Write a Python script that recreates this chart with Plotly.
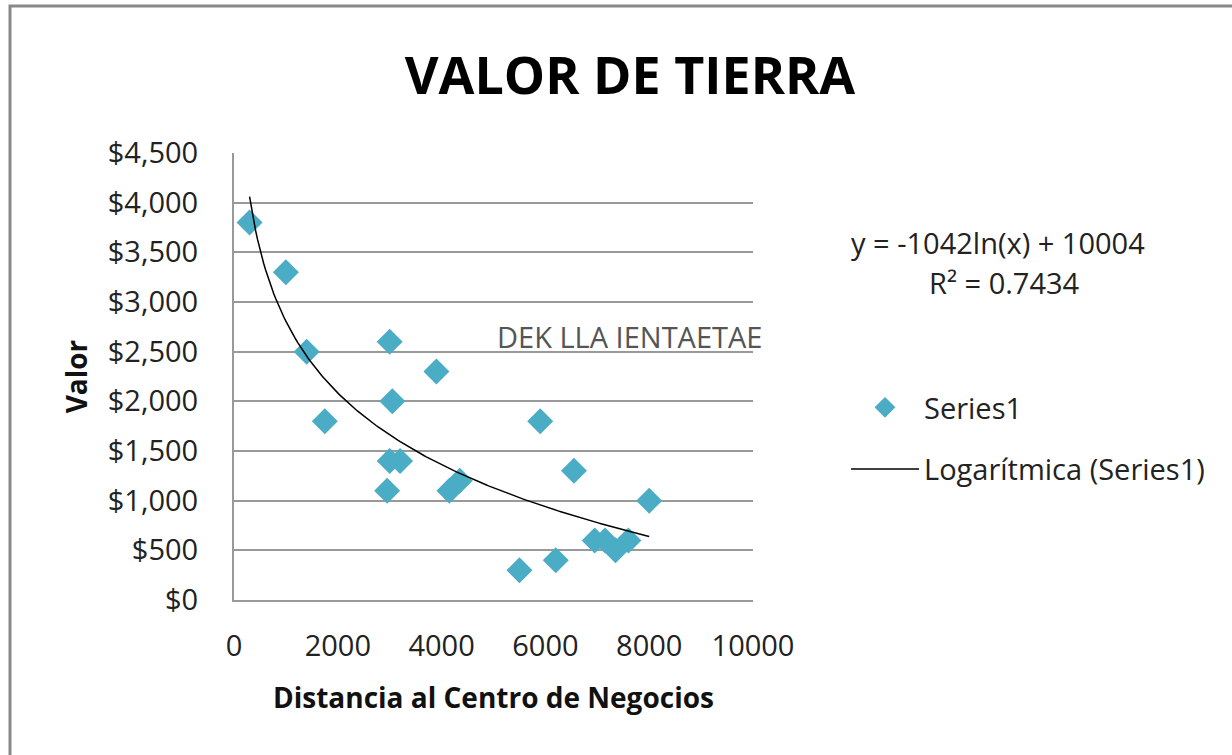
import numpy as np
import plotly.graph_objects as go

# Data
distancia = [300, 1000, 1400, 1750, 3000, 3050, 3000, 3200, 2950, 3900, 4150, 4350,
             5900, 6550, 8000, 5500, 6200, 6950, 7150, 7350, 7600]
valor = [3800, 3300, 2500, 1800, 2600, 2000, 1400, 1400, 1100, 2300, 1100, 1200,
         1800, 1300, 1000, 300, 400, 600, 600, 500, 600]

# Logarithmic trendline coefficients as shown in the chart
coef_a = -1042
coef_b = 10004
r2_text = "R² = 0.7434"
eq_text = "y = -1042ln(x) + 10004"

y_ticks = [0, 500, 1000, 1500, 2000, 2500, 3000, 3500, 4000, 4500]
x_ticks = [0, 2000, 4000, 6000, 8000, 10000]

xt = np.linspace(min(distancia), max(distancia), 200)
yt = coef_a * np.log(xt) + coef_b

FONT = "Open Sans"
fig = go.Figure()
fig.add_trace(go.Scatter(
    x=distancia, y=valor, mode="markers", name="Series1", legendgroup="a",
    marker=dict(symbol="diamond", size=20, color="#4BACC6", line=dict(width=0)),
))
fig.add_trace(go.Scatter(
    x=xt, y=yt, mode="lines", name="Logarítmica (Series1)", legendgroup="b",
    line=dict(color="black", width=1.5),
))

L, R, T, B = 234, 1232 - 753, 153, 155
fig.update_layout(
    width=1232, height=755,
    margin=dict(l=L, r=R, t=T, b=B),
    paper_bgcolor="white", plot_bgcolor="white",
    font=dict(family=FONT, color="#222", size=26),
    title=dict(text="<b>VALOR DE TIERRA</b>", x=630 / 1232, y=1 - 76 / 755,
               xanchor="center", yanchor="middle", xref="container", yref="container",
               font=dict(family=FONT, size=52, color="black")),
    xaxis=dict(range=[0, 10000], tickvals=x_ticks, ticktext=[str(v) for v in x_ticks],
               showgrid=False, zeroline=False, showline=True, linecolor="#999", linewidth=2,
               ticks="", ticklabelstandoff=19,
               tickfont=dict(size=29, color="#222"),
               title=dict(text="<b>Distancia al Centro de Negocios</b>", standoff=26,
                          font=dict(size=28, color="#111"))),
    yaxis=dict(range=[0, 4500], tickvals=y_ticks,
               ticktext=["${:,}".format(v) for v in y_ticks],
               showgrid=True, gridcolor="#999", gridwidth=1.5, zeroline=False,
               showline=True, linecolor="#999", linewidth=2, ticks="", ticklabelstandoff=28,
               tickfont=dict(size=29, color="#222"),
               title=dict(text="<b>Valor</b>", standoff=12, font=dict(size=28, color="#111"))),
    legend=dict(x=(846 - L) / 519, xanchor="left", y=(600 - 382) / 447, yanchor="top",
                traceorder="grouped", tracegroupgap=21, font=dict(size=29, color="#222"),
                bgcolor="rgba(0,0,0,0)", itemwidth=68),
    showlegend=True,
)

fig.add_annotation(text=eq_text, xref="paper", yref="paper", x=(849 - L) / 519,
                   y=(600 - 242) / 447, xanchor="left", yanchor="middle", showarrow=False,
                   font=dict(size=29, color="#222"))
fig.add_annotation(text=r2_text, xref="paper", yref="paper", x=(1004 - L) / 519,
                   y=(600 - 282) / 447, xanchor="center", yanchor="middle", showarrow=False,
                   font=dict(size=29, color="#222"))
fig.add_annotation(text="DEK LLA IENTAETAE", xref="paper", yref="paper", x=(495 - L) / 519,
                   y=(600 - 336) / 447, xanchor="left", yanchor="middle", showarrow=False,
                   font=dict(size=29, color="#555"))

# outer chart border (gray)
fig.add_shape(type="rect", xref="paper", yref="paper",
              x0=(10 - L) / 519, x1=(1240 - L) / 519,
              y0=(600 - 770) / 447, y1=(600 - 6) / 447,
              line=dict(color="#888", width=3), layer="below")

fig.write_html("out.html", config={"displayModeBar": False},
               post_script="document.body.style.margin='0';document.body.style.overflow='hidden';")
